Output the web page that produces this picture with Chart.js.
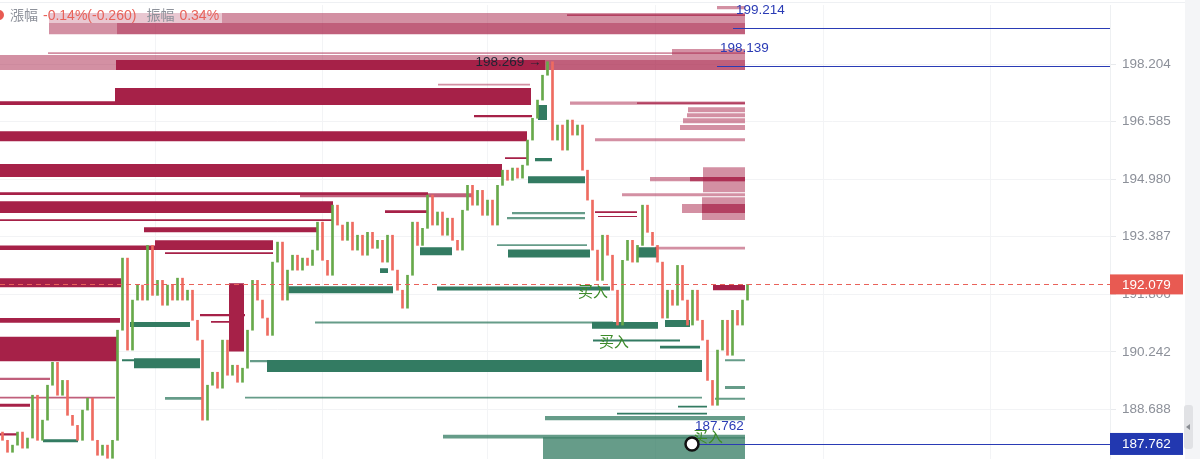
<!DOCTYPE html>
<html>
<head>
<meta charset="utf-8">
<script src="https://cdn.jsdelivr.net/npm/chart.js@4.4.1/dist/chart.umd.min.js"></script>
<style>
  html, body { margin: 0; padding: 0; background: #fff; }
  #wrap { position: relative; width: 1200px; height: 459px; }
</style>
</head>
<body>
<div id="wrap"><canvas id="priceChart"></canvas></div>
<script>
// ---- data (x = bar index, y = price) ----
const firstOpen = 188.08;
const candleCloses = [
  187.86, 187.54, 187.73, 188.08, 187.65, 187.92, 189.07, 187.86, 188.40, 189.34,
  189.96, 189.07, 189.47, 188.53, 188.26, 187.86, 188.67, 188.99, 187.86, 187.46,
  187.73, 187.38, 187.86, 190.83, 192.80, 190.29, 191.65, 192.06, 191.65, 193.15,
  191.78, 192.19, 191.51, 192.06, 191.65, 192.25, 191.65, 191.92, 191.10, 190.56,
  188.40, 189.34, 189.69, 189.26, 190.56, 189.61, 189.88, 189.42, 189.80, 190.83,
  192.19, 191.65, 191.16, 190.69, 192.69, 193.24, 191.65, 192.47, 192.88, 192.47,
  192.80, 192.60, 193.02, 193.79, 192.74, 192.33, 194.26, 193.71, 193.29, 193.79,
  193.02, 193.43, 192.88, 193.51, 193.07, 193.29, 192.69, 193.43, 192.47, 191.92,
  191.43, 192.33, 193.79, 193.15, 193.62, 194.54, 193.71, 194.07, 193.43, 193.90,
  193.29, 193.02, 194.12, 194.81, 194.26, 194.67, 193.98, 194.40, 193.71, 194.81,
  195.23, 194.95, 195.29, 195.01, 195.37, 196.07, 196.68, 197.19, 197.89, 198.27,
  196.07, 196.49, 195.79, 196.63, 196.21, 196.49, 195.23, 194.40, 193.02, 192.19,
  193.43, 192.88, 191.92, 190.97, 192.74, 193.29, 192.69, 193.15, 194.26, 193.51,
  193.15, 192.69, 191.16, 191.92, 191.51, 192.60, 191.65, 190.97, 191.92, 191.10,
  190.56, 189.47, 188.80, 190.29, 191.10, 190.15, 191.37, 190.97, 191.65, 192.08
];

const yTicks = [188.688, 190.242, 191.806, 193.387, 194.980, 196.585, 198.204];
const timeTicks = [31, 64.4, 97.6, 131, 164.6, 198];

// order book levels: [fromIndex, toIndex, upperPrice, lowerPrice]
const askCore = [
  [23.2, 109, 198.32, 198.04], [23, 106.2, 197.53, 197.05], [0, 23, 197.16, 197.05],
  [0, 105.4, 196.32, 196.04], [0, 100.4, 195.40, 195.04], [0, 85.6, 194.62, 194.54],
  [0, 66.6, 194.37, 194.04], [0, 66.6, 193.87, 193.82], [28.8, 63.4, 193.65, 193.51],
  [31, 54.6, 193.29, 193.02], [0, 31, 193.15, 193.02], [33, 54.6, 192.96, 192.91],
  [0, 24.2, 192.25, 192.00], [45.8, 48.8, 192.11, 190.25], [0, 24, 191.16, 191.03],
  [0, 23.6, 190.65, 189.99], [0, 6, 188.84, 188.76], [0, 3.6, 188.05, 187.99],
  [40, 49, 191.27, 191.21], [42.2, 46, 191.08, 191.03], [94.8, 106.4, 196.77, 196.71],
  [101, 105.4, 195.59, 195.54], [77, 85.4, 194.12, 194.04], [119, 127.4, 194.09, 194.04],
  [119.6, 127.4, 193.96, 193.93], [142.6, 149, 192.06, 191.92]
];
const askMid = [
  [23.4, 149, 199.37, 199.05], [109, 149, 198.32, 198.04], [113.4, 149, 199.62, 199.57],
  [127.4, 149, 197.13, 197.08], [138, 149, 195.04, 194.92], [140.4, 149, 194.29, 194.04],
  [60, 94.4, 194.59, 194.48], [0, 23, 189.03, 188.98], [0, 10, 189.54, 189.48]
];
const askLight = [
  [9.8, 149, 199.65, 199.37], [9.8, 23.4, 199.37, 199.05], [143.4, 149, 199.85, 199.76],
  [9.6, 149, 198.54, 198.49], [0, 149, 198.46, 198.32], [0, 23.2, 198.32, 198.04],
  [134.4, 149, 198.63, 198.46], [87.6, 106, 197.65, 197.60], [114, 149, 197.15, 197.06],
  [137.6, 149, 196.99, 196.85], [137.4, 149, 196.82, 196.71], [136.6, 149, 196.68, 196.54],
  [136, 149, 196.49, 196.35], [119, 149, 196.12, 196.04], [140.6, 149, 195.31, 194.62],
  [130, 149, 195.04, 194.92], [124.4, 149, 194.59, 194.51], [140.4, 149, 194.48, 193.85],
  [136.4, 140.4, 194.29, 194.04], [131, 149, 193.11, 193.04]
];
const bidCore = [
  [26, 38, 191.05, 190.92], [26.8, 40, 190.07, 189.80], [24.4, 26.8, 190.04, 189.99],
  [8.6, 15.6, 187.89, 187.81], [53.4, 140.4, 190.02, 189.70], [118.4, 131.6, 191.05, 190.87],
  [133, 138, 191.11, 190.92], [57.4, 78.6, 192.03, 191.84], [87.4, 122, 192.02, 191.91],
  [101.6, 118, 193.04, 192.82], [105.6, 117, 195.06, 194.87], [107, 110.4, 195.57, 195.48],
  [107.6, 109.4, 197.05, 196.63], [84, 90.4, 193.10, 192.88], [127.4, 131.4, 193.10, 192.82],
  [118.6, 136, 190.58, 190.52], [132, 140, 190.41, 190.33], [135.6, 141.4, 188.79, 188.74],
  [123.4, 141.4, 188.60, 188.55], [76, 77.6, 192.52, 192.39]
];
const bidLight = [
  [33, 40.4, 189.02, 188.95], [50, 53.4, 190.02, 189.96], [49, 140.4, 189.03, 188.98],
  [63, 122.6, 191.07, 191.01], [102.4, 117, 194.07, 194.01], [101.4, 117, 193.93, 193.87],
  [99.4, 117.4, 193.18, 193.13], [145, 149, 190.04, 189.99], [145, 149, 189.32, 189.24],
  [143, 149, 189.00, 188.95], [109, 149, 188.51, 188.40], [88.6, 149, 188.01, 187.91],
  [108.6, 149, 187.94, 187.07]
];

const lastPrice = 192.079;
const highMark = [109.5, 198.269];
const levelPrices = [199.214, 198.139, 187.762];
const levelStarts = [146.6, 143.4, 138.4];
const buyMarks = [[118.6, 191.89], [122.8, 190.54], [141.6, 187.97]];

// ---- chart ----
const FONT = '"Liberation Sans", "Noto Sans CJK SC", sans-serif';
const GREEN = '#67a94a';
const RED = '#ee6b60';

const candles = candleCloses.map((c, i) => ({ x: i + 0.5, y: [i ? candleCloses[i - 1] : firstOpen, c] }));

function blockSets(list, color) {
  return list.map(([x0, x1, hi, lo]) => ({
    type: 'line',
    data: [{ x: x0, y: hi }, { x: x1, y: hi }, { x: x1, y: lo }, { x: x0, y: lo }],
    fill: 'shape',
    backgroundColor: color,
    borderColor: 'rgba(0,0,0,0)',
    borderWidth: 0,
    pointRadius: 0,
    pointHoverRadius: 0,
    tension: 0,
    order: 2
  }));
}

const overlay = {
  id: 'overlay',
  afterDraw(chart) {
    const { ctx, chartArea: area, scales: { x, y } } = chart;
    ctx.save();

    // last price dashed line
    const ly = Math.round(y.getPixelForValue(lastPrice)) + 0.5;
    ctx.strokeStyle = '#e9625a';
    ctx.lineWidth = 1;
    ctx.setLineDash([5, 4]);
    ctx.beginPath(); ctx.moveTo(area.left, ly); ctx.lineTo(area.right, ly); ctx.stroke();
    ctx.setLineDash([]);

    // blue level lines
    ctx.font = '13.5px ' + FONT;
    ctx.textBaseline = 'middle';
    levelPrices.forEach((p, i) => {
      const py = Math.round(y.getPixelForValue(p)) + 0.5;
      const px = x.getPixelForValue(levelStarts[i]);
      ctx.strokeStyle = '#2a3bb5';
      ctx.beginPath(); ctx.moveTo(px, py); ctx.lineTo(area.right, py); ctx.stroke();
      ctx.fillStyle = '#2a3bb5';
      ctx.textAlign = 'left';
      ctx.fillText(p.toFixed(3), px + 3, py - 18);
    });

    // high marker
    ctx.fillStyle = '#1f2433';
    ctx.textAlign = 'right';
    ctx.fillText(highMark[1].toFixed(3) + ' \u2192', x.getPixelForValue(highMark[0]) - 6, y.getPixelForValue(highMark[1]));

    // buy marks
    ctx.font = '15px "Noto Sans CJK SC", sans-serif';
    ctx.fillStyle = '#3d8b2a';
    ctx.textAlign = 'center';
    buyMarks.forEach(([bx, bp]) => ctx.fillText('买入', x.getPixelForValue(bx), y.getPixelForValue(bp)));

    // circle at the lowest level start
    const cy = y.getPixelForValue(levelPrices[2]);
    const cx = x.getPixelForValue(levelStarts[2]);
    ctx.beginPath(); ctx.arc(cx, cy, 6.5, 0, Math.PI * 2);
    ctx.fillStyle = '#fff'; ctx.fill();
    ctx.lineWidth = 2.5; ctx.strokeStyle = '#111'; ctx.stroke();

    // axis price boxes
    ctx.font = '13.5px ' + FONT;
    ctx.textAlign = 'left';
    const box = (p, color, h) => {
      const py = y.getPixelForValue(p);
      ctx.fillStyle = color;
      ctx.fillRect(area.right, py - h / 2, 73, h);
      ctx.fillStyle = '#fff';
      ctx.fillText(p.toFixed(3), area.right + 12, py + 0.5);
    };
    box(lastPrice, '#e85a52', 20);
    box(levelPrices[2], '#2238b0', 22);

    // header with translucent backdrop
    ctx.fillStyle = 'rgba(255,255,255,0.5)';
    ctx.fillRect(0, 5, 222, 18);
    ctx.beginPath(); ctx.arc(-1, 15, 5, 0, Math.PI * 2); ctx.fillStyle = '#e85a52'; ctx.fill();
    ctx.font = '14px ' + FONT;
    const parts = [['漲幅', '#8e929b', 5], ['-0.14%(-0.260)', '#e8625a', 10], ['振幅', '#8e929b', 5], ['0.34%', '#e8625a', 0]];
    let tx = 10;
    parts.forEach(([t, c, gap]) => {
      ctx.fillStyle = c;
      ctx.fillText(t, tx, 16);
      tx += ctx.measureText(t).width + gap;
    });

    // top border and scroll strip
    ctx.fillStyle = '#eef0f3';
    ctx.fillRect(0, 2, 1186, 1);
    ctx.fillStyle = '#f4f5f7';
    ctx.fillRect(1185, 0, 15, 459);
    ctx.fillStyle = '#e1e2e5';
    ctx.beginPath(); ctx.roundRect(1184, 405, 9, 44, 3); ctx.fill();
    ctx.fillStyle = '#8a8d93';
    ctx.beginPath(); ctx.moveTo(1186, 427); ctx.lineTo(1190, 424); ctx.lineTo(1190, 430); ctx.closePath(); ctx.fill();

    ctx.restore();
  }
};

Chart.defaults.font.family = FONT;

new Chart(document.getElementById('priceChart'), {
  type: 'bar',
  data: {
    datasets: [
      {
        type: 'bar',
        data: candles,
        grouped: false,
        barThickness: 2,
        backgroundColor: ctx => (ctx.raw && ctx.raw.y[1] >= ctx.raw.y[0] ? GREEN : RED),
        borderWidth: 0,
        order: 0
      },
      ...blockSets(askLight, 'rgba(168,33,72,0.5)'),
      ...blockSets(askMid, 'rgba(168,33,72,0.72)'),
      ...blockSets(askCore, 'rgb(166,33,72)'),
      ...blockSets(bidLight, 'rgba(51,123,98,0.75)'),
      ...blockSets(bidCore, 'rgb(51,123,98)')
    ]
  },
  options: {
    responsive: true,
    maintainAspectRatio: false,
    animation: false,
    devicePixelRatio: 1,
    events: [],
    layout: { padding: { top: 5, left: 0, right: 0, bottom: 0 } },
    plugins: { legend: { display: false }, tooltip: { enabled: false } },
    scales: {
      x: {
        type: 'linear',
        min: 0,
        max: 222,
        offset: false,
        grid: { color: '#f3f4f6', drawTicks: false, offset: false },
        border: { display: false },
        ticks: { display: false },
        afterBuildTicks: s => { s.ticks = timeTicks.map(v => ({ value: v })); },
        afterFit: s => { s.height = 0; s.paddingLeft = 0; s.paddingRight = 0; }
      },
      y: {
        type: 'logarithmic',
        position: 'right',
        min: 187.36,
        max: 199.88,
        grid: { color: '#f2f3f5', tickColor: '#e8eaed', tickLength: 6 },
        border: { color: '#eef0f2' },
        ticks: {
          color: '#8c9099',
          padding: 6,
          autoSkip: false,
          font: { size: 13.5, family: FONT },
          callback: v => Number(v).toFixed(3)
        },
        afterBuildTicks: s => { s.ticks = yTicks.map(v => ({ value: v })); },
        afterFit: s => { s.width = 90; s.paddingTop = 0; s.paddingBottom = 0; }
      }
    }
  },
  plugins: [overlay]
});
</script>
</body>
</html>
